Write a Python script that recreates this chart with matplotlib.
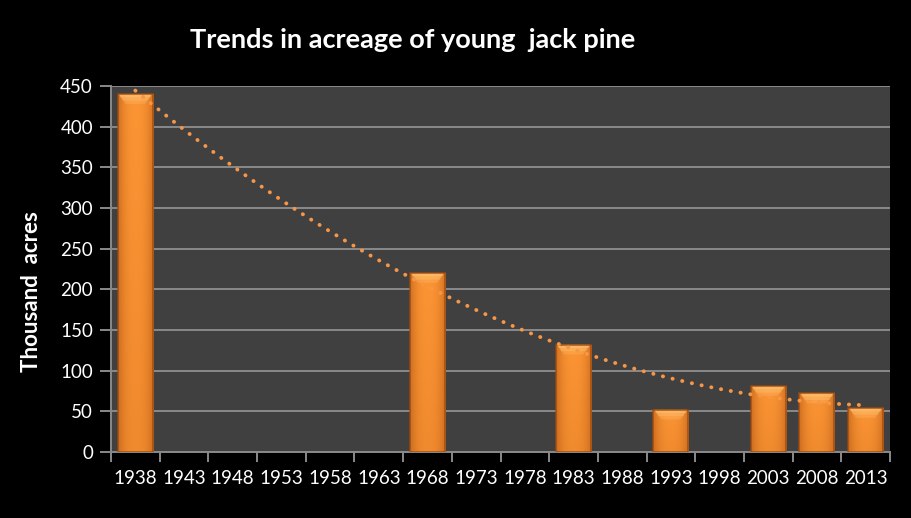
import numpy as np
import matplotlib
matplotlib.use("Agg")
import matplotlib.pyplot as plt
from matplotlib.patches import Polygon

# Survey years (categories) and acreage of young jack pine, thousand acres
years = ["1938", "1943", "1948", "1953", "1958", "1963", "1968", "1973",
         "1978", "1983", "1988", "1993", "1998", "2003", "2008", "2013"]
acres = [440, np.nan, np.nan, np.nan, np.nan, np.nan, 220, np.nan,
         np.nan, 132, np.nan, 52, np.nan, 81, 72, 54]
y_ticks = [0, 50, 100, 150, 200, 250, 300, 350, 400, 450]

plt.rcParams['font.family'] = ['Lato', 'DejaVu Sans']

W, H = 911, 518
fig = plt.figure(figsize=(W / 100, H / 100), dpi=100, facecolor="black")
ax = fig.add_axes([111 / W, 1 - 452 / H, (890 - 111) / W, (452 - 86) / H])
ax.set_facecolor("#404040")

x = np.arange(len(years))
vals = np.array(acres, dtype=float)
mask = ~np.isnan(vals)

ax.set_xlim(-0.5, len(years) - 0.5)
ax.set_ylim(0, 450)

# horizontal gridlines
ax.set_yticks(y_ticks)
ax.yaxis.grid(True, color="#8a8a8a", linewidth=1.4)
ax.set_axisbelow(True)

bar_w = 0.72
bars = ax.bar(x[mask], vals[mask], width=bar_w, color="#e07a22",
              edgecolor="none", zorder=2)

# shaded fill inside each bar: darker toward the sides and the base
n = 64
u = np.linspace(0, 1, n)
side = 1 - 0.6 * (np.abs(u - 0.5) * 2) ** 2.5
v = np.linspace(0, 1, n)[:, None]
light = np.array([0.985, 0.58, 0.20])
dark = np.array([0.70, 0.34, 0.08])
for b in bars:
    x0, w, h = b.get_x(), b.get_width(), b.get_height()
    base = 0.84 + 0.16 * v  # v=0 bottom
    t = (side[None, :] * base)[..., None]
    img = dark + (light - dark) * t
    im = ax.imshow(img, extent=(x0, x0 + w, 0, h), origin="lower",
                   aspect="auto", zorder=3, interpolation="bilinear")
    im.set_clip_path(b)
    # bevelled highlight at the top of the bar, fading downward
    d = 12.0
    inset = w * 0.22
    for k, a in enumerate([0.5, 0.4, 0.3]):
        f = (k + 1) / 3
        top = Polygon([(x0 + 0.04 * w, h), (x0 + 0.96 * w, h),
                       (x0 + w - inset * f, h - d * f),
                       (x0 + inset * f, h - d * f)],
                      closed=True, facecolor="#ffc070", edgecolor="none",
                      alpha=a, zorder=4)
        ax.add_patch(top)
    ax.add_patch(plt.Rectangle((x0, 0), w, h, fill=False,
                               edgecolor="#9a4a10", linewidth=1.2,
                               alpha=0.8, zorder=5))

# polynomial trendline fitted to the surveyed values
coef = np.polyfit(x[mask] + 1, vals[mask], 2)
xs = np.linspace(0, len(years) - 1, 300)
ax.plot(xs, np.polyval(coef, xs + 1), color="#f79646",
        linestyle=(0, (0.05, 2.5)), linewidth=2.8,
        dash_capstyle="round", zorder=6)

# axes styling
for s in ["top", "right"]:
    ax.spines[s].set_visible(False)
for s in ["left", "bottom"]:
    ax.spines[s].set_color("#8a8a8a")
    ax.spines[s].set_linewidth(1.4)

ax.set_xticks(x)
ax.set_xticklabels(years)
ax.set_xticks(np.arange(-0.5, len(years), 1.0), minor=True)
ax.tick_params(axis="x", which="major", length=0, pad=13,
               labelsize=13.5, labelcolor="white")
ax.tick_params(axis="x", which="minor", length=7, width=1.4,
               color="#8a8a8a")
ax.tick_params(axis="y", length=8, width=1.4, color="#8a8a8a",
               labelsize=13.5, labelcolor="white", pad=5)

fig.text(413 / W, 1 - 40 / H, "Trends in acreage of young  jack pine",
         color="white", fontsize=19.5, fontweight="bold",
         ha="center", va="center")
fig.text(32 / W, 1 - 292 / H, "Thousand  acres", color="white",
         fontsize=16, fontweight="bold", rotation=90,
         ha="center", va="center")

fig.savefig("out.png", dpi=100, facecolor="black")
